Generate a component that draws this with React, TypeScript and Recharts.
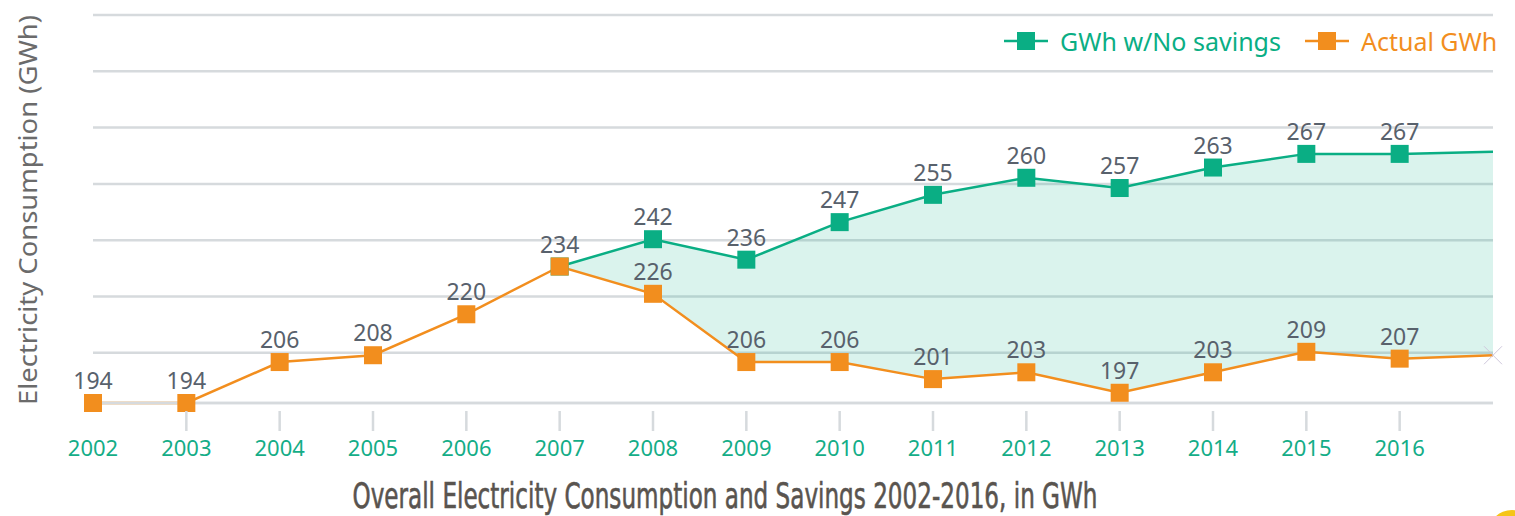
import { ComposedChart, Line, Area, XAxis, YAxis, CartesianGrid, LabelList } from 'recharts'

const years = ['2002', '2003', '2004', '2005', '2006', '2007', '2008', '2009', '2010', '2011', '2012', '2013', '2014', '2015', '2016', '2017']
const noSavings = [null, null, null, null, null, 234, 242, 236, 247, 255, 260, 257, 263, 267, 267, 267.6]
const actual = [194, 194, 206, 208, 220, 234, 226, 206, 206, 201, 203, 197, 203, 209, 207, 208]
const gridTicks = [208.7, 225.2, 241.7, 258.2, 274.7, 291.2, 307.7]

const GREEN = '#0aae84'
const ORANGE = '#f28e1e'
const GRID = '#d6dadd'
const FONT = "'Noto Sans', 'Open Sans', sans-serif"

const last = years.length - 1
const data = years.map((year, i) => ({
  year,
  noSavings: noSavings[i],
  actual: actual[i],
  band: noSavings[i] == null ? null : [actual[i], noSavings[i]],
  noSavingsLabel: i === 5 || i === last ? null : noSavings[i],
  actualLabel: i === last ? null : actual[i],
}))

const square = (color: string) => (props: any) => {
  const { cx, cy, index } = props
  if (cy == null || cx == null) return <g key={`n-${index}`} />
  if (index === last) {
    if (color === GREEN) return <g key={`n-${index}`} />
    return (
      <g key={`x-${index}`} stroke="#cfc8dc" strokeWidth={1}>
        <line x1={cx - 9} y1={cy - 9} x2={cx + 9} y2={cy + 9} />
        <line x1={cx - 9} y1={cy + 9} x2={cx + 9} y2={cy - 9} />
      </g>
    )
  }
  return <rect key={`s-${index}`} x={cx - 9} y={cy - 9} width={18} height={18} fill={color} />
}

const YearTick = (props: any) => {
  const { x, y, payload, index } = props
  const edge = index === 0 || index === last
  return (
    <g>
      {!edge && <line x1={x} y1={y} x2={x} y2={y + 20} stroke={GRID} strokeWidth={2.5} />}
      {index !== last && (
        <text x={x} y={y + 45} textAnchor="middle" fill="#14ad87" fontSize={22} fontFamily={FONT}>
          {payload.value}
        </text>
      )}
    </g>
  )
}

const legendItems = [
  { name: 'GWh w/No savings', color: GREEN },
  { name: 'Actual GWh', color: ORANGE },
]

export default function App() {
  return (
    <div style={{ position: 'absolute', left: 0, top: 0, width: 1515, height: 516, overflow: 'hidden', background: '#fff' }}>
      <ComposedChart width={1515} height={470} data={data} margin={{ top: 15, right: 22, left: 93, bottom: 22 }}>
        <CartesianGrid vertical={false} stroke={GRID} strokeWidth={2.5} />
        <XAxis dataKey="year" interval={0} height={45} stroke={GRID} strokeWidth={2.5}
          tickLine={false} tick={<YearTick />} />
        <YAxis hide domain={[194, 307.7]} ticks={gridTicks} />
        <Area dataKey="band" stroke="none" fill={GREEN} fillOpacity={0.15} isAnimationActive={false}
          activeDot={false} connectNulls={false} />
        <Line dataKey="noSavings" stroke={GREEN} strokeWidth={2.5} dot={square(GREEN)} isAnimationActive={false}
          connectNulls={false}>
          <LabelList dataKey="noSavingsLabel" position="top" offset={14} fill="#58616c" fontSize={23} fontFamily={FONT} />
        </Line>
        <Line dataKey="actual" stroke={ORANGE} strokeWidth={2.5} dot={square(ORANGE)} isAnimationActive={false}>
          <LabelList dataKey="actualLabel" position="top" offset={14} fill="#58616c" fontSize={23} fontFamily={FONT} />
        </Line>
      </ComposedChart>

      <div style={{ position: 'absolute', top: 25, left: 1004, width: 530, display: 'flex', whiteSpace: 'nowrap',
        fontFamily: FONT, fontSize: 25, lineHeight: '32px' }}>
        {legendItems.map((it) => (
          <div key={it.name} style={{ display: 'flex', alignItems: 'center', flexShrink: 0, color: it.color, marginRight: 24 }}>
            <svg width={44} height={20}>
              <line x1={0} y1={10} x2={44} y2={10} stroke={it.color} strokeWidth={2.5} />
              <rect x={13} y={1} width={18} height={18} fill={it.color} />
            </svg>
            <span style={{ marginLeft: 12 }}>{it.name}</span>
          </div>
        ))}
      </div>

      <svg width={1515} height={516} style={{ position: 'absolute', left: 0, top: 0, pointerEvents: 'none' }}>
        <text transform="translate(37,210) rotate(-90)" textAnchor="middle" fill="#6b6b6b" fontSize={25}
          fontFamily={FONT} textLength={390} lengthAdjust="spacingAndGlyphs">
          Electricity Consumption (GWh)
        </text>
        <text x={725} y={508} textAnchor="middle" fill="#59544f" stroke="#59544f" strokeWidth={0.6} fontSize={36}
          fontFamily="'Liberation Sans Narrow', 'DejaVu Sans Condensed', sans-serif"
          textLength={745} lengthAdjust="spacingAndGlyphs">
          Overall Electricity Consumption and Savings 2002-2016, in GWh
        </text>
        <circle cx={1512} cy={534} r={24} fill="#f5c518" />
      </svg>
    </div>
  )
}
